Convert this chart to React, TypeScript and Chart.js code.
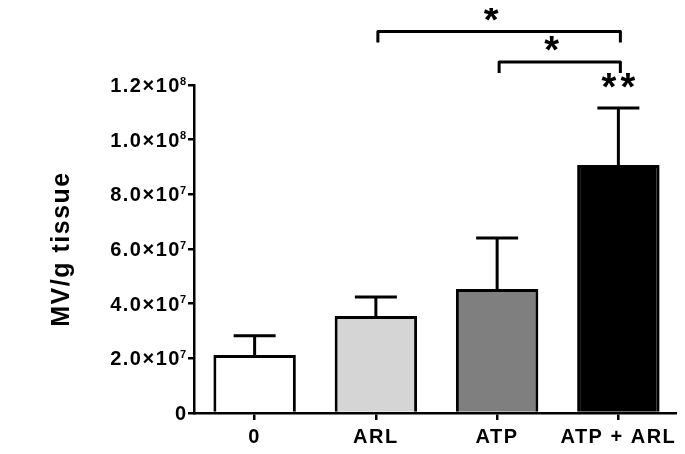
import React, { useEffect, useRef } from "react";
import { Chart, registerables } from "chart.js";

Chart.register(...registerables);

const categories = ["0", "ARL", "ATP", "ATP + ARL"];
const means = [2.12e7, 3.55e7, 4.54e7, 9.07e7];
const sems = [0.71e7, 0.69e7, 1.86e7, 2.09e7];
const barColors = ["#ffffff", "#d5d5d5", "#7f7f7f", "#000000"];
const barStars = ["", "", "", "**"];
const bracketFrom = [1, 2];
const bracketTo = [3, 3];
const bracketLevel = [1.396e8, 1.284e8];
const bracketLabel = ["*", "*"];
const yMin = 0;
const yMax = 1.2e8;
const yStep = 2e7;

const FONT = "'Liberation Sans', Arial, sans-serif";

function sciParts(v: number): [string, string] {
  if (v === 0) return ["0", ""];
  const exp = Math.floor(Math.log10(v) + 1e-9);
  const mant = v / Math.pow(10, exp);
  return [mant.toFixed(1) + "×10", String(exp)];
}

function drawStars(ctx: CanvasRenderingContext2D, text: string, x: number, cy: number) {
  const size = 38;
  const gap = 19;
  ctx.save();
  (ctx as any).letterSpacing = "0px";
  ctx.fillStyle = "#000";
  ctx.font = `bold ${size}px ${FONT}`;
  ctx.textAlign = "center";
  ctx.textBaseline = "alphabetic";
  const n = text.length;
  for (let i = 0; i < n; i++) {
    const cx = x + (i - (n - 1) / 2) * gap;
    ctx.fillText(text[i], cx, cy + 0.45 * size);
  }
  ctx.restore();
}

const spacing = {
  id: "spacing",
  beforeDraw(chart: any) {
    (chart.ctx as any).letterSpacing = "1.5px";
  },
  afterDraw(chart: any) {
    (chart.ctx as any).letterSpacing = "0px";
  },
};

const yLabels = {
  id: "yLabels",
  afterDraw(chart: any) {
    const ctx: CanvasRenderingContext2D = chart.ctx;
    const y = chart.scales.y;
    const right = chart.chartArea.left - 8;
    ctx.save();
    ctx.fillStyle = "#000";
    ctx.textAlign = "right";
    ctx.textBaseline = "alphabetic";
    const mainSize = 20;
    const supSize = 11;
    y.ticks.forEach((t: any) => {
      const py = y.getPixelForValue(t.value);
      const [main, sup] = sciParts(t.value);
      let r = right;
      if (sup) {
        ctx.font = `bold ${supSize}px ${FONT}`;
        (ctx as any).letterSpacing = "0px";
        ctx.fillText(sup, r, py - 0.5);
        r -= ctx.measureText(sup).width + 0.5;
      }
      (ctx as any).letterSpacing = "1.5px";
      ctx.font = `bold ${mainSize}px ${FONT}`;
      ctx.fillText(main, r + 1.5, py + 7);
    });
    ctx.restore();
  },
};

const annotations = {
  id: "annotations",
  afterDatasetsDraw(chart: any) {
    const ctx: CanvasRenderingContext2D = chart.ctx;
    const y = chart.scales.y;
    const x = chart.scales.x;
    const meta = chart.getDatasetMeta(0);
    ctx.save();
    ctx.strokeStyle = "#000";
    ctx.lineWidth = 3;
    ctx.lineCap = "butt";
    meta.data.forEach((bar: any, i: number) => {
      const top = y.getPixelForValue(means[i]);
      const cap = y.getPixelForValue(means[i] + sems[i]);
      ctx.beginPath();
      ctx.moveTo(bar.x, top);
      ctx.lineTo(bar.x, cap);
      ctx.moveTo(bar.x - 21, cap);
      ctx.lineTo(bar.x + 21, cap);
      ctx.stroke();
      if (barStars[i]) drawStars(ctx, barStars[i], bar.x, cap - 25);
    });
    bracketFrom.forEach((f, k) => {
      const x1 = x.getPixelForValue(f) + 2;
      const x2 = x.getPixelForValue(bracketTo[k]) + 2;
      const by = y.getPixelForValue(bracketLevel[k]);
      ctx.beginPath();
      ctx.lineJoin = "round";
      ctx.moveTo(x1, by + 11);
      ctx.lineTo(x1, by);
      ctx.lineTo(x2, by);
      ctx.lineTo(x2, by + 11);
      ctx.stroke();
      drawStars(ctx, bracketLabel[k], (x1 + x2) / 2 - 8, by - 16);
    });
    ctx.restore();
  },
};

export default function App() {
  const ref = useRef<HTMLCanvasElement>(null);
  useEffect(() => {
    const chart = new Chart(ref.current!, {
      type: "bar",
      data: {
        labels: categories,
        datasets: [
          {
            data: means,
            backgroundColor: barColors,
            borderColor: "#000",
            borderWidth: 3,
            barPercentage: 0.68,
            categoryPercentage: 1,
          },
        ],
      },
      options: {
        responsive: false,
        animation: false,
        layout: { padding: { top: 85, right: 6, left: 0, bottom: 0 } },
        plugins: { legend: { display: false }, tooltip: { enabled: false } },
        scales: {
          x: {
            afterFit: (s: any) => { s.height = 41; },
            grid: {
              display: true,
              drawOnChartArea: false,
              offset: false,
              tickLength: 7,
              lineWidth: 2.5,
              color: "#000",
            },
            border: { display: true, color: "#000", width: 2.5 },
            ticks: {
              color: "#000",
              padding: 5,
              font: { family: FONT, weight: "bold", size: 20 },
              maxRotation: 0,
              autoSkip: false,
            },
          },
          y: {
            min: yMin,
            max: yMax,
            afterFit: (s: any) => { s.width = 194; },
            grid: {
              display: true,
              drawOnChartArea: false,
              tickLength: 6,
              lineWidth: 2.5,
              color: "#000",
            },
            border: { display: true, color: "#000", width: 2.5 },
            ticks: {
              stepSize: yStep,
              display: false,
            },
            title: {
              display: true,
              text: "MV/g tissue",
              color: "#000",
              font: { family: FONT, weight: "bold", size: 25 },
              padding: { top: 47, bottom: 0 },
            },
          },
        },
      } as any,
      plugins: [spacing, annotations, yLabels],
    });
    return () => chart.destroy();
  }, []);
  return (
    <div style={{ width: 685, height: 454, margin: -8, position: "relative", background: "#fff" }}>
      <canvas ref={ref} width={685} height={454} style={{ display: "block" }} />
    </div>
  );
}
